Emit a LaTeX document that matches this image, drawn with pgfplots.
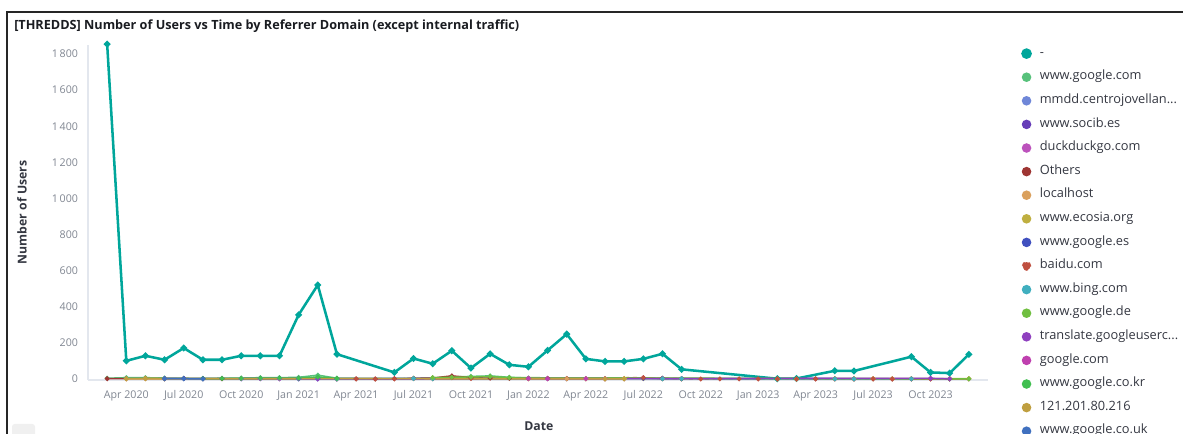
\documentclass[border=0pt]{standalone}
\usepackage{fontspec}
\setmainfont{Open Sans}
\usepackage{pgfplots}
\pgfplotsset{compat=1.18}

\definecolor{sA}{HTML}{00A69B}
\definecolor{sB}{HTML}{57C17B}
\definecolor{sC}{HTML}{6F87D8}
\definecolor{sD}{HTML}{663DB8}
\definecolor{sE}{HTML}{BC52BC}
\definecolor{sF}{HTML}{9E3533}
\definecolor{sG}{HTML}{DAA05D}
\definecolor{sH}{HTML}{BFAF40}
\definecolor{sI}{HTML}{4050BF}
\definecolor{sJ}{HTML}{BF5040}
\definecolor{sK}{HTML}{40AFBF}
\definecolor{sL}{HTML}{70BF40}
\definecolor{sM}{HTML}{8F40BF}
\definecolor{sN}{HTML}{BF40AF}
\definecolor{sO}{HTML}{40BF50}
\definecolor{sP}{HTML}{BF9F40}
\definecolor{sQ}{HTML}{4070BF}
\definecolor{titlec}{HTML}{1A1C21}
\definecolor{labc}{HTML}{343741}
\definecolor{tickc}{HTML}{808691}
\definecolor{axc}{HTML}{E3E7EE}

\pgfplotsset{
  small/.style={line width=1.1pt, mark=*, mark size=1.2pt, mark options={solid}},
}

\begin{document}
\begin{tikzpicture}[x=0.75pt,y=0.75pt]
\useasboundingbox (0,0) rectangle (1183,434);
% panel frame, cut at the right and bottom
\draw[line width=1.5pt, black!85] (7,0) -- (7,421.5) -- (1183,421.5);
\node[anchor=west, inner sep=0pt, text=titlec,
      font=\bfseries\fontsize{9.5}{11}\selectfont] at (14,408)
  {[THREDDS] Number of Users vs Time by Referrer Domain (except internal traffic)};
\fill[black!6, rounded corners=2pt] (12,-4) rectangle (35,10);

\begin{axis}[
  at={(66pt,40.5pt)}, anchor=south west,
  scale only axis, width=675pt, height=251.25pt,
  xmin=-1, xmax=46, ymin=-5, ymax=1850,
  clip=false,
  axis x line*=bottom, axis y line*=left,
  axis line style={-},
  x axis line style={draw=axc, line width=0.8pt},
  y axis line style={draw=axc, line width=0.8pt},
  major tick length=0pt,
  xtick={1,4,...,43},
  xticklabels={Apr 2020, Jul 2020, Oct 2020, Jan 2021, Apr 2021, Jul 2021,
    Oct 2021, Jan 2022, Apr 2022, Jul 2022, Oct 2022, Jan 2023, Apr 2023,
    Jul 2023, Oct 2023},
  ytick={0,200,...,1800},
  tick label style={font=\fontsize{8}{9}\selectfont, text=tickc},
  yticklabel style={xshift=-4pt},
  xticklabel style={yshift=-4.5pt},
  /pgf/number format/.cd, 1000 sep={\,}, assume math mode=true, /pgfplots/.cd,
  ylabel={Number of Users},
  xlabel={Date},
  label style={font=\bfseries\fontsize{9.2}{11}\selectfont, text=labc},
  ylabel style={at={(axis description cs:-0.0733,0.5)}, anchor=center},
  xlabel style={at={(axis description cs:0.501,-0.137)}, anchor=center},
  legend style={at={(axis description cs:1.0367,0.991)}, anchor=north west,
    draw=none, fill=none, inner sep=0pt, text=labc,
    font=\fontsize{9.6}{11}\selectfont,
    nodes={inner sep=0pt, text height=6pt, text depth=2pt},
    row sep=9.7pt,
    /tikz/every odd column/.append style={column sep=6pt}},
  legend cell align=left,
  legend image code/.code={\fill (3pt,0pt) circle (3pt);},
]

\addplot[color=sA, line width=1.9pt, mark=*, mark size=1.4pt] coordinates {
 (0,1855) (1,101) (2,129) (3,107) (4,172) (5,107) (6,107) (7,129) (8,129)
 (9,129) (10,356) (11,521) (12,138) (15,37) (16,114) (17,85) (18,157)
 (19,61) (20,140) (21,79) (22,68) (23,159) (24,249) (25,112) (26,98)
 (27,98) (28,112) (29,140) (30,54) (35,2) (36,3) (38,46) (39,45)
 (42,124) (43,37) (44,33) (45,137)};
\addlegendentry{-}

\addplot[color=sB, small] coordinates {
 (0,5) (1,8) (2,8) (3,6) (4,5) (5,4) (6,5) (7,6) (8,8) (9,8) (10,10)
 (11,22) (12,5) (16,4) (17,6) (18,12) (19,15) (20,18) (21,10) (22,6)
 (23,3) (24,2) (25,3)};
\addlegendentry{www.google.com}

\addplot[color=sC, small] coordinates {
 (3,4) (4,3) (5,2) (6,3) (7,2) (8,3) (9,4) (10,3) (11,2) (12,1)};
\addlegendentry{mmdd.centrojovellan...}

\addplot[color=sD, small] coordinates {
 (7,2) (8,3) (9,2) (10,4) (11,3) (12,1) (28,5) (29,4) (43,3) (44,2)};
\addlegendentry{www.socib.es}

\addplot[color=sE, small] coordinates {
 (7,3) (8,3) (9,2) (10,3) (11,2) (22,4) (23,3) (24,2) (25,3) (26,2) (27,2)};
\addlegendentry{duckduckgo.com}

\addplot[color=sF, small] coordinates {
 (0,2) (1,2) (2,3) (3,2) (4,3) (5,2) (6,2) (12,1) (13,1) (14,1) (15,2)
 (16,4) (17,6) (18,18) (19,8) (20,5) (21,4) (22,3) (23,4) (24,3) (28,6)
 (29,4) (30,2) (35,1) (36,1) (37,1) (38,1) (39,1) (40,1) (41,1) (42,1)
 (43,1) (44,1) (45,1)};
\addlegendentry{Others}

\addplot[color=sG, small] coordinates {
 (1,1) (2,2) (3,1) (24,2) (25,1) (26,1) (27,1)};
\addlegendentry{localhost}

\addplot[color=sH, small] coordinates {
 (2,4) (3,3) (22,2) (25,2) (26,3) (27,3) (28,3) (29,2) (30,2) (35,1)
 (36,1) (38,2) (39,2) (40,2) (41,2) (42,2) (43,2) (44,2) (45,2)};
\addlegendentry{www.ecosia.org}

\addplot[color=sI, small] coordinates {
 (3,3) (4,3) (5,2) (10,2) (28,4) (29,3) (30,3)};
\addlegendentry{www.google.es}

\addplot[color=sJ, small, dashed] coordinates {
 (12,2) (13,1) (14,1) (15,1) (16,3) (17,2) (18,8) (19,3) (28,8) (29,3)
 (30,2) (31,1) (32,1) (33,1) (34,1) (35,1) (36,1) (37,1) (38,1) (39,1)
 (40,1) (41,1) (42,1) (43,1) (44,1)};
\addlegendentry{baidu.com}

\addplot[color=sK, small] coordinates {
 (10,2) (11,2) (12,1) (16,3) (17,2) (29,2) (30,2) (38,1) (39,1) (42,1)};
\addlegendentry{www.bing.com}

\addplot[color=sL, small] coordinates {
 (17,8) (18,10) (19,12) (20,14) (21,8) (44,1) (45,1)};
\addlegendentry{www.google.de}

\addplot[color=sM, small] coordinates {
 (10,2) (11,1) (43,4) (44,1)};
\addlegendentry{translate.googleuserc...}

\addplot[color=sN, small] coordinates {
 (22,3) (23,2) (25,2) (26,2)};
\addlegendentry{google.com}

\addplot[color=sO, small] coordinates {
 (5,3) (6,3) (7,4) (8,5) (9,6) (10,5) (11,12) (12,4)};
\addlegendentry{www.google.co.kr}

\addplot[color=sP, small] coordinates {
 (1,2) (2,3) (26,1) (27,1)};
\addlegendentry{121.201.80.216}

\addplot[color=sQ, small] coordinates {
 (3,2) (4,2) (5,1)};
\addlegendentry{www.google.co.uk}

\end{axis}
\end{tikzpicture}
\end{document}
